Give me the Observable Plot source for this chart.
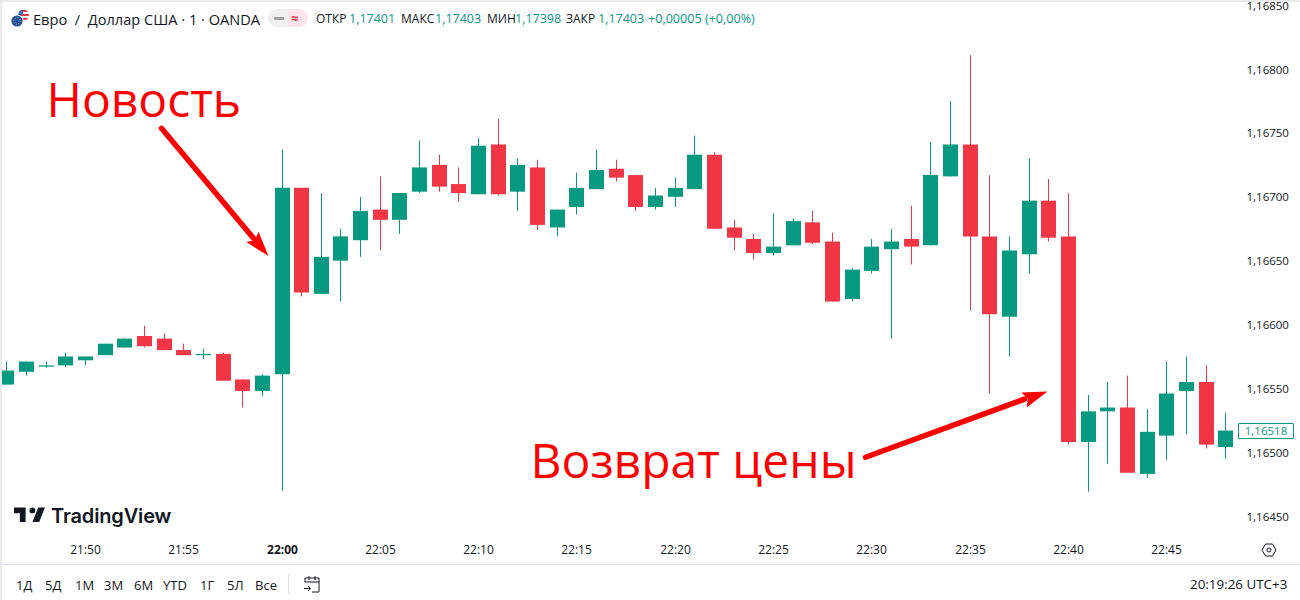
<!DOCTYPE html>
<html lang="ru">
<head>
<meta charset="utf-8">
<script src="https://cdn.jsdelivr.net/npm/d3@7"></script>
<script src="https://cdn.jsdelivr.net/npm/@observablehq/plot@0.6"></script>
<style>
html,body{margin:0;padding:0;background:#fff;width:1300px;height:600px;overflow:hidden}
#root{position:relative;width:1300px;height:600px;font-family:"Open Sans",sans-serif;color:#131722;overflow:hidden}
#root svg{display:block}
.a{position:absolute;white-space:nowrap;line-height:16px}
</style>
</head>
<body>
<div id="root"><div id="chart"></div></div>
<script>
// 1-minute candles, 21:46 .. 22:48
const startTime = "21:46";
const opens = [1.16554,1.16564,1.16568,1.16569,1.16573,1.16577,1.16583,1.16592,1.16590,1.16581,1.16577,1.16578,1.16558,1.16549,1.16562,1.16708,1.16625,1.16651,1.16667,1.16691,1.16683,1.16705,1.16726,1.16711,1.16703,1.16742,1.16705,1.16724,1.16677,1.16693,1.16707,1.16723,1.16718,1.16693,1.16701,1.16707,1.16734,1.16677,1.16668,1.16657,1.16663,1.16681,1.16666,1.16621,1.16643,1.16660,1.16668,1.16663,1.16717,1.16742,1.16670,1.16607,1.16656,1.16698,1.16670,1.16509,1.16533,1.16536,1.16484,1.16514,1.16549,1.16556,1.16505];
const highs = [1.16572,1.16572,1.16572,1.16579,1.16576,1.16586,1.16590,1.16600,1.16594,1.16586,1.16582,1.16579,1.16558,1.16562,1.16738,1.16708,1.16704,1.16676,1.16701,1.16717,1.16704,1.16745,1.16734,1.16724,1.16747,1.16762,1.16731,1.16730,1.16691,1.16720,1.16738,1.16730,1.16718,1.16708,1.16716,1.16749,1.16736,1.16683,1.16672,1.16688,1.16684,1.16690,1.16673,1.16645,1.16668,1.16676,1.16694,1.16744,1.16776,1.16812,1.16718,1.16670,1.16731,1.16715,1.16704,1.16546,1.16556,1.16561,1.16535,1.16572,1.16576,1.16569,1.16532];
const lows = [1.16554,1.16561,1.16567,1.16568,1.16569,1.16577,1.16583,1.16583,1.16581,1.16577,1.16574,1.16557,1.16536,1.16545,1.16471,1.16623,1.16625,1.16619,1.16654,1.16659,1.16672,1.16704,1.16705,1.16697,1.16703,1.16702,1.16690,1.16675,1.16670,1.16687,1.16707,1.16713,1.16690,1.16691,1.16693,1.16707,1.16676,1.16659,1.16652,1.16655,1.16663,1.16664,1.16619,1.16619,1.16641,1.16590,1.16648,1.16663,1.16717,1.16612,1.16547,1.16576,1.16641,1.16666,1.16507,1.16470,1.16492,1.16485,1.16481,1.16495,1.16515,1.16504,1.16496];
const closes = [1.16565,1.16572,1.16569,1.16576,1.16576,1.16586,1.16590,1.16584,1.16581,1.16577,1.16578,1.16557,1.16549,1.16561,1.16708,1.16626,1.16654,1.16670,1.16690,1.16683,1.16704,1.16724,1.16709,1.16704,1.16741,1.16703,1.16726,1.16679,1.16691,1.16708,1.16722,1.16716,1.16693,1.16702,1.16708,1.16734,1.16676,1.16669,1.16657,1.16662,1.16682,1.16665,1.16619,1.16644,1.16662,1.16666,1.16662,1.16718,1.16742,1.16670,1.16609,1.16659,1.16698,1.16669,1.16509,1.16533,1.16536,1.16485,1.16517,1.16547,1.16556,1.16507,1.16518];

const timeTicks = ["21:50","21:55","22:05","22:10","22:15","22:20","22:25","22:30","22:35","22:40","22:45"];
const boldTick = "22:00";
const priceTicks = [1.1645,1.165,1.1655,1.166,1.1665,1.167,1.1675,1.168,1.1685];
const lastPrice = "1,16518";

// annotations, in chart coordinates (minute of day, price)
const noteLabels = ["Новость","Возврат цены"];
const noteX = [1308.0,1332.65];
const noteY = [1.16776,1.16493];
const arrowX1 = [1313.87,1349.68];
const arrowY1 = [1.16755,1.164975];
const arrowX2 = [1318.53,1357.77];
const arrowY2 = [1.16669,1.16543];
const tipX = [1319.33,1358.92];
const tipY = [1.16655,1.16549];
const tipAngle = [140,70];

const toMinute = s => { const [h,m] = s.split(":").map(Number); return h*60+m; };
const fmtMinute = m => String(Math.floor(m/60)).padStart(2,"0")+":"+String(m%60).padStart(2,"0");
const t0 = toMinute(startTime);
const candles = opens.map((o,i)=>({t:t0+i,open:o,high:highs[i],low:lows[i],close:closes[i],dir:closes[i]>=o?"up":"down"}));
const notes = noteLabels.map((label,i)=>({label,x:noteX[i],y:noteY[i]}));
const arrows = arrowX1.map((_,i)=>({x1:arrowX1[i],y1:arrowY1[i],x2:arrowX2[i],y2:arrowY2[i],tx:tipX[i],ty:tipY[i],a:tipAngle[i]}));
const head = {draw(c){c.moveTo(0,0);c.lineTo(8,25);c.lineTo(0,21);c.lineTo(-8,25);c.closePath();}};
const fmtPrice = d => d3.format(".5f")(d).replace(".",",");

const chart = Plot.plot({
  width:1300,height:565,marginLeft:0,marginRight:62,marginTop:0,marginBottom:30,
  style:{fontFamily:'"Open Sans",sans-serif',fontSize:"12px",color:"#131722",background:"transparent",overflow:"visible"},
  x:{domain:[1305.685,1368.64],round:true},
  y:{domain:[1.164362,1.168551]},
  color:{domain:["up","down"],range:["#089981","#f23645"]},
  marks:[
    Plot.axisY({anchor:"right",ticks:priceTicks,tickFormat:fmtPrice,tickSize:0,tickPadding:8,label:null,fill:"#131722",fontSize:11.5,dy:-1}),
    Plot.axisX({ticks:timeTicks.map(toMinute),tickFormat:fmtMinute,tickSize:0,tickPadding:10,label:null,fill:"#131722"}),
    Plot.axisX({ticks:[toMinute(boldTick)],tickFormat:fmtMinute,tickSize:0,tickPadding:10,label:null,fontWeight:700,fill:"#131722"}),
    Plot.ruleX(candles,{x:"t",y1:"low",y2:"high",stroke:"dir",strokeWidth:1,clip:true}),
    Plot.ruleX(candles,{x:"t",y1:"open",y2:"close",stroke:"dir",strokeWidth:15,clip:true}),
    Plot.link(arrows,{x1:"x1",y1:"y1",x2:"x2",y2:"y2",stroke:"#ff0000",strokeWidth:5.5,strokeLinecap:"round"}),
    Plot.dot(arrows,{x:"tx",y:"ty",rotate:"a",symbol:head,fill:"#ff0000",stroke:"none"}),
    Plot.text(notes,{x:"x",y:"y",text:"label",fill:"#ff0000",fontSize:48,textAnchor:"start"})
  ]
});
document.getElementById("chart").appendChild(chart);

const root = document.getElementById("root");
const put = (html,css) => { const e=document.createElement("div"); e.className="a"; e.style.cssText=css; e.innerHTML=html; root.appendChild(e); return e; };

// pane borders
put("","left:0;top:0;width:2px;height:600px;background:#ebebeb");
put("","left:0;top:0;width:1300px;height:2px;background:#ebebeb");
put("","left:2px;top:564px;width:1298px;height:1px;background:#e0e3eb");

// legend row
put(`<svg width="20" height="20" viewBox="0 0 20 20" style="display:block"><defs><clipPath id="cf"><circle cx="13.5" cy="6" r="5.5"/></clipPath></defs><g clip-path="url(#cf)"><rect x="8" y="0" width="11" height="12" fill="#fff"/><rect x="8" y="1" width="11" height="2" fill="#e8394a"/><rect x="8" y="5" width="11" height="2" fill="#e8394a"/><rect x="8" y="9" width="11" height="2" fill="#e8394a"/><rect x="8" y="0" width="5" height="6" fill="#3a6fc4"/></g><circle cx="7" cy="12" r="6.5" fill="#fff"/><circle cx="7" cy="12" r="5.6" fill="#1e4fa3"/><circle cx="7" cy="12" r="3.2" fill="none" stroke="#f5c518" stroke-width="1" stroke-dasharray="1 1.5"/></svg>`,"left:10px;top:9px;width:20px;height:20px");
put("Евро&nbsp; /&nbsp; Доллар США · 1 · OANDA","left:33px;top:11px;font-size:14.6px;color:#131722");
put("","left:268px;top:9px;width:20px;height:18px;background:#f0f0f0;border-radius:9px 0 0 9px");
put("","left:288px;top:9px;width:20px;height:18px;background:#fce4ec;border-radius:0 9px 9px 0");
put("","left:274px;top:17px;width:10px;height:2.5px;background:#a0a0a0;border-radius:1px");
put("≈","left:291px;top:10px;font-size:13px;color:#f23645;font-weight:700");
const legend = [["ОТКР",316,"1,17401",349],["МАКС",401,"1,17403",435],["МИН",487,"1,17398",515],["ЗАКР",566,"1,17403",598]];
legend.forEach(([k,kx,v,vx])=>{ put(k,`left:${kx}px;top:11px;font-size:12px;color:#131722`); put(v,`left:${vx}px;top:11px;font-size:12.5px;color:#089981`); });
put("+0,00005 (+0,00%)","left:648px;top:11px;font-size:12.6px;color:#089981");

// logo
put(`<svg width="31" height="16" viewBox="2 6 32 15.5" style="display:block"><path fill="#131722" d="M14 6H2v6h6v9h6V6zm14 15h-7l6-15h7l-6 15zm-7-9a3 3 0 1 0 0-6 3 3 0 0 0 0 6z"/></svg>`,"left:14px;top:507px;width:31px;height:16px");
put("TradingView","left:51px;top:504px;font-family:Inter,sans-serif;font-size:20px;font-weight:600;line-height:24px;color:#131722;letter-spacing:-.15px");

// last price tag
put(lastPrice,"left:1238px;top:423px;width:54px;height:14px;line-height:14px;border:1px solid #089981;border-radius:1px;background:#fff;color:#089981;font-size:11.5px;text-align:center");

// settings hex
put(`<svg width="16" height="16" viewBox="0 0 16 16" style="display:block"><path d="M4.5 2h7L15 8l-3.5 6h-7L1 8z" fill="none" stroke="#131722" stroke-width="1"/><circle cx="8" cy="8" r="2" fill="none" stroke="#131722"/></svg>`,"left:1260.5px;top:542px;width:16px;height:16px");

// range bar
const ranges = [["1Д",16],["5Д",45],["1М",75],["3М",104],["6М",134],["YTD",163],["1Г",200],["5Л",227],["Все",255]];
ranges.forEach(([r,x])=>put(r,`left:${x}px;top:577px;font-size:13px;color:#131722`));
put("","left:288px;top:573px;width:1px;height:22px;background:#e0e3eb");
put(`<svg width="20" height="20" viewBox="0 0 20 20" style="display:block"><path d="M3 8V4h14v14H10M3 8h14M7 2v4M13 2v4M2 14.5h6M6 12l2.5 2.5L6 17" fill="none" stroke="#131722" stroke-width="1"/></svg>`,"left:302px;top:574px;width:20px;height:20px");
put("20:19:26 UTC+3","left:1190px;top:576px;font-size:13.4px;color:#131722");
</script>
</body>
</html>
